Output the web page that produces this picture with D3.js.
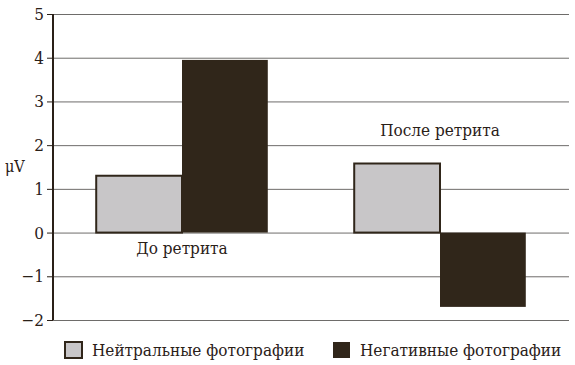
<!DOCTYPE html>
<html>
<head>
<meta charset="utf-8">
<script src="https://cdn.jsdelivr.net/npm/d3@7"></script>
<style>
    body { margin: 0; background: #fff; }
    svg text { font-family: "DejaVu Serif", serif; font-stretch: condensed; fill: #2a2018; }
</style>
</head>
<body>
<div id="chart"></div>
<script>
///// DATOS //////
let groups = ['До ретрита', 'После ретрита'];
let seriesNames = ['Нейтральные фотографии', 'Негативные фотографии'];
let neutralValues = [1.3, 1.58];
let negativeValues = [3.95, -1.7];
let yTicks = [-2, -1, 0, 1, 2, 3, 4, 5];

let colors = ['#c8c6c8', '#30261a'];
let margin = {top: 14, right: 6, bottom: 45, left: 53};

drawChart();

function drawChart() {
    let totalW = 575, totalH = 365;
    let width = totalW - margin.left - margin.right,
        height = totalH - margin.top - margin.bottom;

    let svg = d3.select('#chart')
        .append('svg')
        .attr('width', totalW)
        .attr('height', totalH);

    let chart = svg.append('g')
        .attr('transform', 'translate(' + margin.left + ',' + margin.top + ')');

    //Eje Y
    let y = d3.scaleLinear()
        .domain([-2, 5])
        .range([height, 0]);

    let yAxis = function(g) {
        g.call(d3.axisLeft(y).tickValues(yTicks).tickSize(6).tickPadding(3)
            .tickFormat(d => d < 0 ? '\u2212' + Math.abs(d) : d));
        g.select('.domain').remove();
        g.selectAll('.tick line').attr('stroke', '#2a2018');
        g.selectAll('.tick text')
            .style('font-size', '17px')
            .attr('fill', '#2a2018');
    };

    //Líneas de rejilla
    chart.append('g')
        .selectAll('line')
        .data(yTicks)
        .join('line')
        .attr('x1', 0)
        .attr('x2', width)
        .attr('y1', d => y(d) + 0.5)
        .attr('y2', d => y(d) + 0.5)
        .attr('stroke', '#6e6c6a')
        .attr('stroke-width', 1);

    chart.append('g').call(yAxis);

    //Eje X
    let x0 = d3.scaleBand()
        .domain(groups)
        .range([0, width])
        .paddingInner(0.335)
        .paddingOuter(0.1675);

    let x1 = d3.scaleBand()
        .domain(seriesNames)
        .range([0, x0.bandwidth()]);

    let rows = groups.map((g, i) => ({
        group: g,
        values: [
            {name: seriesNames[0], value: neutralValues[i]},
            {name: seriesNames[1], value: negativeValues[i]}
        ]
    }));

    let groupsG = chart.append('g')
        .selectAll('g')
        .data(rows)
        .join('g')
        .attr('transform', d => 'translate(' + x0(d.group) + ',0)');

    groupsG.selectAll('rect')
        .data(d => d.values)
        .join('rect')
        .attr('x', d => x1(d.name))
        .attr('width', x1.bandwidth())
        .attr('y', d => y(Math.max(0, d.value)))
        .attr('height', d => Math.abs(y(d.value) - y(0)))
        .attr('fill', (d, i) => colors[i])
        .attr('stroke', '#30261a')
        .attr('stroke-width', (d, i) => i == 0 ? 2 : 0);

    //Etiquetas de grupo
    chart.append('g')
        .selectAll('text')
        .data(rows)
        .join('text')
        .attr('x', d => x0(d.group) + x0.bandwidth() / 2)
        .attr('y', (d, i) => i == 0 ? y(0) + 21 : y(Math.max(d.values[0].value, d.values[1].value)) - 28)
        .attr('text-anchor', 'middle')
        .style('font-size', '17px')
        .text(d => d.group);

    //Eje vertical
    chart.append('line')
        .attr('x1', 0).attr('x2', 0)
        .attr('y1', 0).attr('y2', height)
        .attr('stroke', '#2a2018')
        .attr('stroke-width', 2);

    //Título eje
    svg.append('text')
        .attr('x', 5)
        .attr('y', 172)
        .style('font-size', '16px')
        .text('\u03bcV');

    //Leyenda
    let legendX = [64, 332];
    let legend = svg.append('g')
        .selectAll('g')
        .data(seriesNames)
        .join('g')
        .attr('transform', (d, i) => 'translate(' + legendX[i] + ',341)');

    legend.append('rect')
        .attr('x', 1)
        .attr('y', 1)
        .attr('width', 17)
        .attr('height', 16)
        .attr('fill', (d, i) => colors[i])
        .attr('stroke', '#30261a')
        .attr('stroke-width', (d, i) => i == 0 ? 2 : 0);

    legend.append('text')
        .attr('x', 28)
        .attr('y', 15)
        .style('font-size', '17px')
        .text(d => d);
}
</script>
</body>
</html>
